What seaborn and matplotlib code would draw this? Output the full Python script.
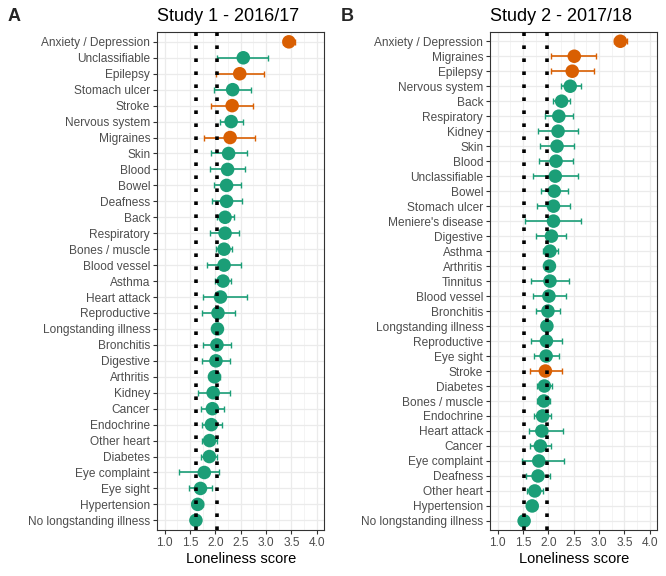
import numpy as np
import pandas as pd
import matplotlib
matplotlib.use("Agg")
import matplotlib.pyplot as plt
import seaborn as sns

# Study 1 - 2016/17 (top to bottom)
labels_1 = ["Anxiety / Depression", "Unclassifiable", "Epilepsy", "Stomach ulcer", "Stroke",
            "Nervous system", "Migraines", "Skin", "Blood", "Bowel", "Deafness", "Back",
            "Respiratory", "Bones / muscle", "Blood vessel", "Asthma", "Heart attack",
            "Reproductive", "Longstanding illness", "Bronchitis", "Digestive", "Arthritis",
            "Kidney", "Cancer", "Endochrine", "Other heart", "Diabetes", "Eye complaint",
            "Eye sight", "Hypertension", "No longstanding illness"]
mean_1 = [3.45, 2.55, 2.48, 2.34, 2.33, 2.31, 2.29, 2.26, 2.24, 2.22, 2.22, 2.19, 2.19, 2.17,
          2.17, 2.15, 2.10, 2.05, 2.04, 2.03, 2.01, 1.98, 1.955, 1.94, 1.92, 1.885, 1.88,
          1.78, 1.705, 1.65, 1.615]
low_1 = [3.33, 2.04, 2.02, 1.97, 1.91, 2.09, 1.78, 1.92, 1.89, 1.97, 1.93, 2.03, 1.89, 2.02,
         1.84, 2.00, 1.76, 1.73, 2.00, 1.75, 1.73, 1.87, 1.65, 1.72, 1.74, 1.74, 1.72,
         1.29, 1.47, 1.545, 1.59]
high_1 = [3.57, 3.03, 2.96, 2.70, 2.74, 2.545, 2.79, 2.62, 2.59, 2.50, 2.52, 2.37, 2.47, 2.32,
          2.50, 2.30, 2.62, 2.38, 2.08, 2.30, 2.28, 2.10, 2.28, 2.17, 2.12, 2.03, 2.03,
          2.08, 1.94, 1.75, 1.64]

# Study 2 - 2017/18 (top to bottom)
labels_2 = ["Anxiety / Depression", "Migraines", "Epilepsy", "Nervous system", "Back",
            "Respiratory", "Kidney", "Skin", "Blood", "Unclassifiable", "Bowel", "Stomach ulcer",
            "Meniere's disease", "Digestive", "Asthma", "Arthritis", "Tinnitus", "Blood vessel",
            "Bronchitis", "Longstanding illness", "Reproductive", "Eye sight", "Stroke",
            "Diabetes", "Bones / muscle", "Endochrine", "Heart attack", "Cancer",
            "Eye complaint", "Deafness", "Other heart", "Hypertension", "No longstanding illness"]
mean_2 = [3.42, 2.51, 2.47, 2.43, 2.26, 2.205, 2.19, 2.17, 2.15, 2.135, 2.115, 2.10, 2.10,
          2.06, 2.03, 2.02, 2.03, 2.01, 1.99, 1.97, 1.96, 1.955, 1.94, 1.92, 1.91, 1.885,
          1.87, 1.84, 1.81, 1.795, 1.73, 1.68, 1.52]
low_2 = [3.30, 2.06, 2.05, 2.24, 2.10, 1.93, 1.79, 1.84, 1.81, 1.69, 1.86, 1.78, 1.545,
         1.76, 1.885, 1.94, 1.66, 1.69, 1.76, 1.94, 1.66, 1.71, 1.63, 1.78, 1.78, 1.71,
         1.615, 1.63, 1.47, 1.56, 1.58, 1.60, 1.50]
high_2 = [3.55, 2.93, 2.89, 2.64, 2.43, 2.48, 2.58, 2.51, 2.48, 2.58, 2.38, 2.43, 2.65,
          2.35, 2.19, 2.10, 2.41, 2.34, 2.22, 2.00, 2.26, 2.21, 2.26, 2.07, 2.04, 2.05,
          2.29, 2.06, 2.30, 2.03, 1.89, 1.78, 1.54]

highlight = ["Anxiety / Depression", "Epilepsy", "Stroke", "Migraines"]

GREEN = "#1B9E77"
ORANGE = "#D95F02"

sns.set_theme(style="whitegrid")
plt.rcParams["font.family"] = ["Liberation Sans", "DejaVu Sans"]


def make_df(labels, mean, low, high):
    df = pd.DataFrame({"condition": labels, "score": mean, "low": low, "high": high})
    df["pos"] = np.arange(len(df))
    df["group"] = np.where(df["condition"].isin(highlight), "hl", "other")
    return df


def draw_panel(ax, df, title):
    # reference lines at the two overall groups
    ref_no = df.loc[df["condition"] == "No longstanding illness", "score"].iloc[0]
    ref_yes = df.loc[df["condition"] == "Longstanding illness", "score"].iloc[0]
    for v in (ref_no, ref_yes):
        ax.axvline(v, color="black", linestyle=(0, (1, 2.6)), linewidth=2.6, zorder=6)

    for grp, col in (("other", GREEN), ("hl", ORANGE)):
        sub = df[df["group"] == grp]
        ax.errorbar(sub["score"], sub["pos"],
                    xerr=[sub["score"] - sub["low"], sub["high"] - sub["score"]],
                    fmt="none", ecolor=col, elinewidth=1.2, capsize=2, capthick=1.0, zorder=3)
    sns.scatterplot(data=df, x="score", y="pos", hue="group",
                    palette={"other": GREEN, "hl": ORANGE}, s=95, linewidth=0,
                    legend=False, ax=ax, zorder=5)

    ax.set_xlim(0.85, 4.15)
    ax.set_ylim(len(df) - 0.4, -0.6)
    ax.set_xticks(np.arange(1.0, 4.01, 0.5))
    ax.set_xticklabels([f"{t:.1f}" for t in np.arange(1.0, 4.01, 0.5)])
    ax.set_xticks(np.arange(1.25, 4.0, 0.5), minor=True)
    ax.set_yticks(df["pos"])
    ax.set_yticklabels(df["condition"])
    ax.grid(True, which="major", color="#EBEBEB", linewidth=0.9)
    ax.grid(True, which="minor", axis="x", color="#F3F3F3", linewidth=0.6)
    ax.set_axisbelow(True)
    ax.tick_params(axis="both", which="major", length=3, width=0.8, color="#333333",
                   labelsize=8.6, labelcolor="#4D4D4D", pad=2, left=True, bottom=True)
    ax.tick_params(axis="both", which="minor", length=0)
    for sp in ax.spines.values():
        sp.set_color("#333333")
        sp.set_linewidth(0.8)
    ax.set_xlabel("Loneliness score", fontsize=10.5, color="black", labelpad=2)
    ax.set_ylabel("")
    ax.set_title(title, fontsize=13, color="black", pad=8, loc="left")


df1 = make_df(labels_1, mean_1, low_1, high_1)
df2 = make_df(labels_2, mean_2, low_2, high_2)

fig = plt.figure(figsize=(6.66, 5.76), dpi=100)
ax1 = fig.add_axes([0.236, 0.080, 0.251, 0.864])
ax2 = fig.add_axes([0.736, 0.080, 0.251, 0.864])
draw_panel(ax1, df1, "Study 1 - 2016/17")
draw_panel(ax2, df2, "Study 2 - 2017/18")

fig.text(0.012, 0.972, "A", fontsize=13, fontweight="bold", va="center", ha="left")
fig.text(0.512, 0.972, "B", fontsize=13, fontweight="bold", va="center", ha="left")

fig.savefig("out.png", dpi=100, facecolor="white")
